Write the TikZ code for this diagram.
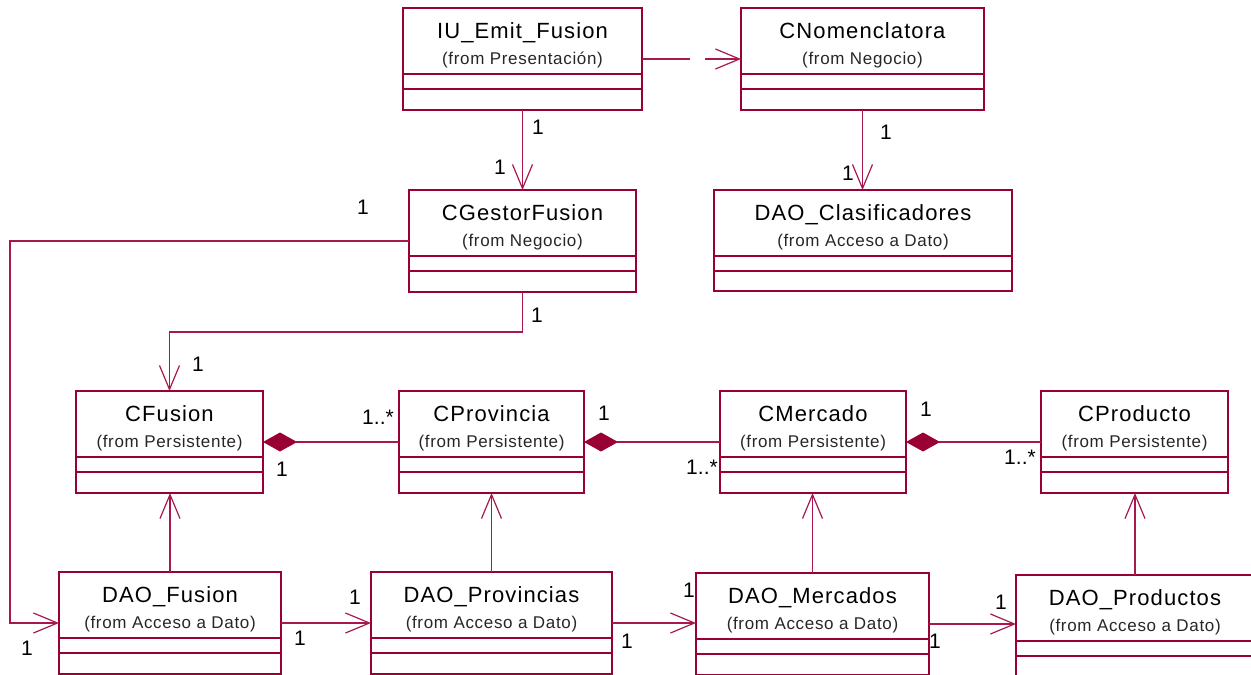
\documentclass[tikz,border=0pt]{standalone}
\usepackage{fontspec}
\setmainfont{Liberation Sans}
\newfontfamily\classtitlefont[LetterSpace=5]{Liberation Sans}
\newfontfamily\classsubfont[LetterSpace=4]{Liberation Sans}
\usetikzlibrary{arrows.meta,calc}
\definecolor{umlred}{RGB}{153,0,51}
\definecolor{linkred}{RGB}{168,24,78}

\tikzset{
  classbox/.style={draw=umlred, line width=1.6pt, inner sep=0pt, outer sep=0pt, anchor=north west},
  compline/.style={draw=umlred, line width=1.2pt},
  titletext/.style={font=\classtitlefont\fontsize{22}{26}\selectfont, inner sep=0pt, anchor=base, text=black},
  subtext/.style={font=\classsubfont\fontsize{17}{20}\selectfont, inner sep=0pt, anchor=base, text=black!85},
  link/.style={draw=linkred, line width=1.2pt},
  nav/.style={link, -{Straight Barb[length=24pt, width=20pt, line width=1.2pt]}},
  comp/.style={link, {Diamond[length=34pt, width=19pt, fill=umlred, color=umlred]}-},
  mult/.style={font=\fontsize{21}{25}\selectfont, inner sep=0pt, text=black},
}

% class box: name, x, y (top left), width, height, class name, package
\newcommand{\umlclass}[7]{%
  \node[classbox, minimum width=#4pt, minimum height=#5pt] (#1) at (#2,#3) {};
  \node[titletext] (#1-title) at ([yshift=-30pt]#1.north) {#6};
  \node[subtext] (#1-from) at ([yshift=-56pt]#1.north) {#7};
  \draw[compline] ([yshift=-66pt]#1.north west) -- ([yshift=-66pt]#1.north east);
  \draw[compline] ([yshift=-81pt]#1.north west) -- ([yshift=-81pt]#1.north east);
}

\begin{document}
\begin{tikzpicture}[x=1pt, y=-1pt]
  \useasboundingbox (0,0) rectangle (1251,675);

  % classes
  \umlclass{IU}{403}{8}{239}{102}{IU\_Emit\_Fusion}{(from Presentación)}
  \umlclass{CNom}{741}{8}{243}{102}{CNomenclatora}{(from Negocio)}
  \umlclass{CGestor}{409}{190}{227}{102}{CGestorFusion}{(from Negocio)}
  \umlclass{DAOClas}{714}{190}{298}{101}{DAO\_Clasificadores}{(from Acceso a Dato)}
  \umlclass{CFusion}{76}{391}{187}{102}{CFusion}{(from Persistente)}
  \umlclass{CProv}{399}{391}{185}{102}{CProvincia}{(from Persistente)}
  \umlclass{CMerc}{720}{391}{186}{102}{CMercado}{(from Persistente)}
  \umlclass{CProd}{1041}{391}{187}{102}{CProducto}{(from Persistente)}
  \umlclass{DAOFus}{59}{572}{222}{102}{DAO\_Fusion}{(from Acceso a Dato)}
  \umlclass{DAOProv}{371}{572}{241}{102}{DAO\_Provincias}{(from Acceso a Dato)}
  \umlclass{DAOMerc}{696}{573}{233}{102}{DAO\_Mercados}{(from Acceso a Dato)}
  \umlclass{DAOProd}{1016}{575}{238}{102}{DAO\_Productos}{(from Acceso a Dato)}

  % routing rails
  \coordinate (leftrail) at (10,0);
  \coordinate (midrail) at (0,332);

  % navigable associations
  \draw[nav, dash pattern=on 48pt off 15pt on 300pt] (IU.east) -- (CNom.west);
  \draw[nav] (IU.south) -- (CGestor.north);
  \draw[nav] (CNom.south) -- (CNom.south |- DAOClas.north);
  \draw[nav] (CGestor.west) -- (CGestor.west -| leftrail) |- (DAOFus.west);
  \draw[nav] (CGestor.south) -- (CGestor.south |- midrail) -| (CFusion.north);
  \draw[nav] (DAOFus.north) -- (DAOFus.north |- CFusion.south);
  \draw[nav] (DAOProv.north) -- (CProv.south);
  \draw[nav] (DAOMerc.north) -- (DAOMerc.north |- CMerc.south);
  \draw[nav] (DAOProd.north) -- (DAOProd.north |- CProd.south);
  \draw[nav] (DAOFus.east) -- (DAOProv.west);
  \draw[nav] (DAOProv.east) -- (DAOMerc.west |- DAOProv.east);
  \draw[nav] (DAOMerc.east) -- (DAOProd.west |- DAOMerc.east);

  % compositions
  \draw[comp] (CFusion.east) -- (CProv.west);
  \draw[comp] (CProv.east) -- (CMerc.west);
  \draw[comp] (CMerc.east) -- (CProd.west);

  % multiplicities
  \node[mult] (m1) at (538,127) {1};
  \node[mult] (m2) at (500,167) {1};
  \node[mult] (m3) at (886,132) {1};
  \node[mult] (m4) at (848,173) {1};
  \node[mult] (m5) at (363,207) {1};
  \node[mult] (m6) at (27,648) {1};
  \node[mult] (m7) at (537,315) {1};
  \node[mult] (m8) at (198,364) {1};
  \node[mult] (m9) at (378,417) {1..*};
  \node[mult] (m10) at (282,469) {1};
  \node[mult] (m11) at (604,413) {1};
  \node[mult] (m12) at (702,467) {1..*};
  \node[mult] (m13) at (926,409) {1};
  \node[mult] (m14) at (1020,457) {1..*};
  \node[mult] (m15) at (300,638) {1};
  \node[mult] (m16) at (355,597) {1};
  \node[mult] (m17) at (627,641) {1};
  \node[mult] (m18) at (689,590) {1};
  \node[mult] (m19) at (935,641) {1};
  \node[mult] (m20) at (1001,602) {1};
\end{tikzpicture}
\end{document}
